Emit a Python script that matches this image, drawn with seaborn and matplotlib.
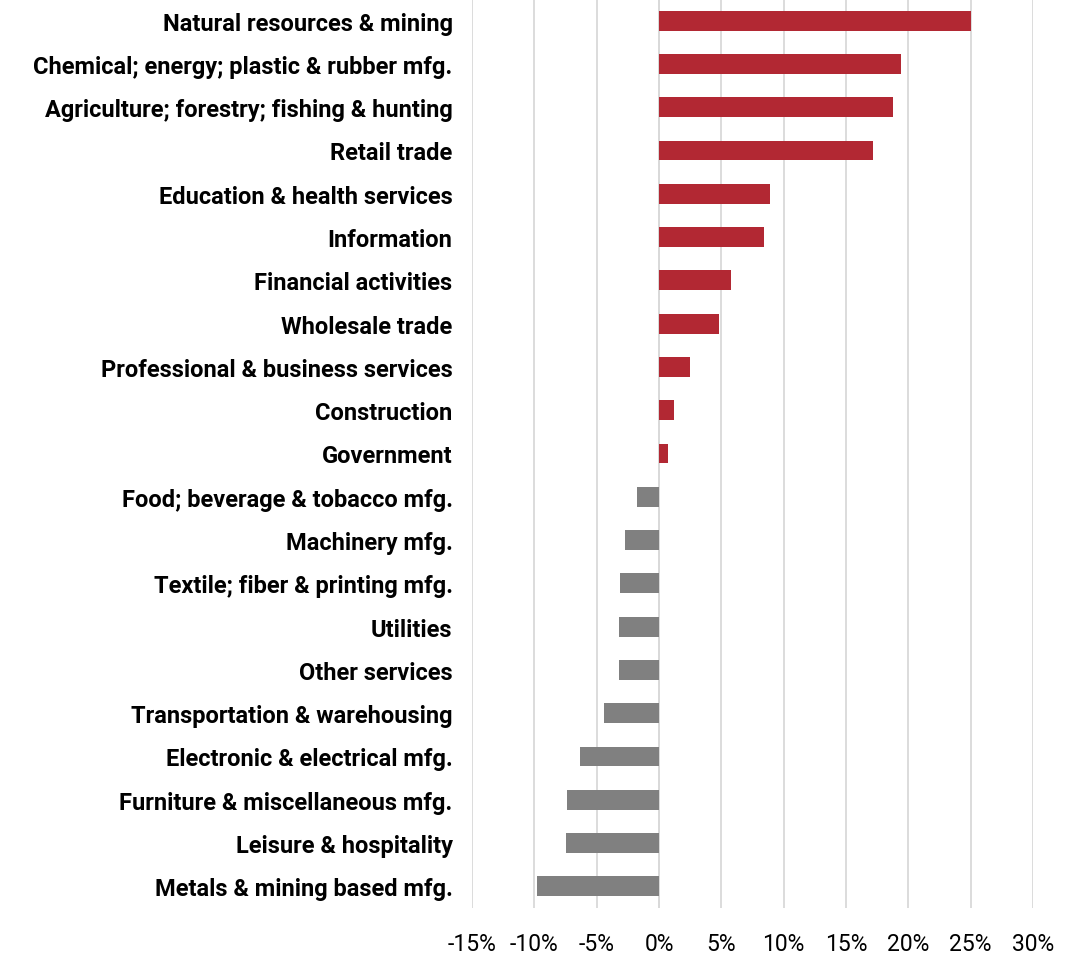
import matplotlib
matplotlib.use("Agg")
import matplotlib.pyplot as plt
import seaborn as sns
import pandas as pd
from matplotlib.ticker import FuncFormatter

categories = [
    "Natural resources & mining",
    "Chemical; energy; plastic & rubber mfg.",
    "Agriculture; forestry; fishing & hunting",
    "Retail trade",
    "Education & health services",
    "Information",
    "Financial activities",
    "Wholesale trade",
    "Professional & business services",
    "Construction",
    "Government",
    "Food; beverage & tobacco mfg.",
    "Machinery mfg.",
    "Textile; fiber & printing mfg.",
    "Utilities",
    "Other services",
    "Transportation & warehousing",
    "Electronic & electrical mfg.",
    "Furniture & miscellaneous mfg.",
    "Leisure & hospitality",
    "Metals & mining based mfg.",
]
values = [25.0, 19.4, 18.8, 17.2, 8.9, 8.4, 5.8, 4.8, 2.5, 1.2, 0.7,
          -1.8, -2.7, -3.1, -3.2, -3.2, -4.4, -6.3, -7.4, -7.5, -9.8]
xticks = [-15, -10, -5, 0, 5, 10, 15, 20, 25, 30]

RED = "#B22833"
GRAY = "#808080"

sns.set_theme(style="white")
plt.rcParams["font.family"] = ["Roboto", "DejaVu Sans"]

df = pd.DataFrame({"category": categories, "value": values})
df["sign"] = ["pos" if v >= 0 else "neg" for v in values]

fig = plt.figure(figsize=(10.74, 9.54), dpi=100)
ax = fig.add_axes([472 / 1074, 1 - 909 / 954, (1033 - 472) / 1074, 909 / 954])

sns.barplot(data=df, x="value", y="category", hue="sign",
            palette={"pos": RED, "neg": GRAY}, dodge=False, width=0.46,
            legend=False, ax=ax, saturation=1, zorder=3, linewidth=0)

ax.set_xlim(-15, 30)
ax.set_xticks(xticks)
ax.xaxis.set_major_formatter(FuncFormatter(lambda v, p: f"{v:.0f}%"))
ax.grid(axis="x", color="#D9D9D9", linewidth=1.3, zorder=0)
ax.grid(axis="y", visible=False)
ax.axvline(0, color="#D9D9D9", linewidth=1.3, zorder=1)
for s in ax.spines.values():
    s.set_visible(False)
ax.set_xlabel("")
ax.set_ylabel("")
ax.tick_params(axis="x", labelsize=16.5, pad=17, colors="#000000", length=0)
ax.tick_params(axis="y", labelsize=17, pad=14, length=0)
for lbl in ax.get_yticklabels():
    lbl.set_fontweight("bold")
    lbl.set_color("#000000")

fig.savefig("out.png", dpi=100)
